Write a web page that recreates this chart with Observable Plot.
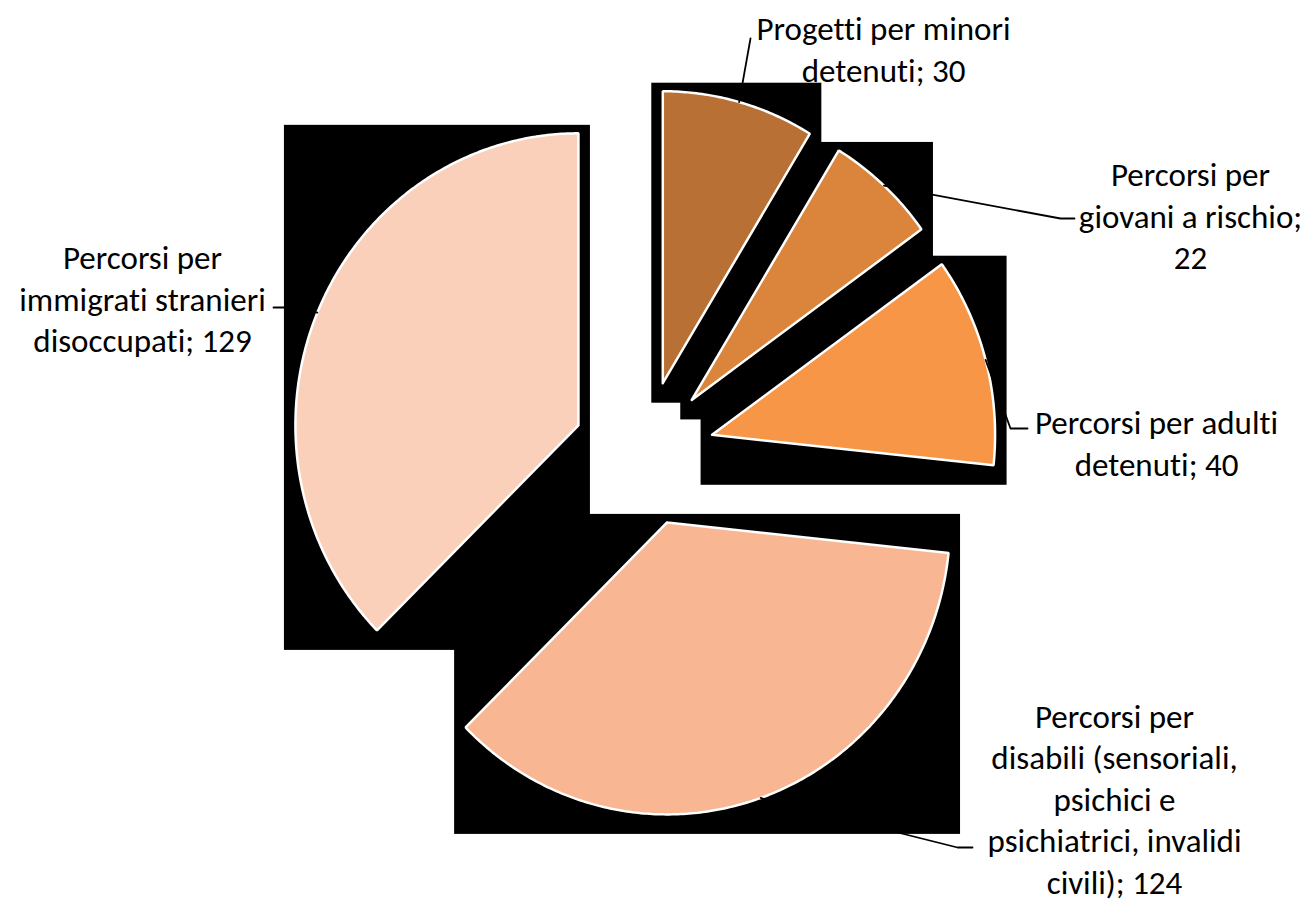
<!DOCTYPE html>
<html>
<head>
<meta charset="utf-8">
<script src="https://cdn.jsdelivr.net/npm/d3@7"></script>
<script src="https://cdn.jsdelivr.net/npm/@observablehq/plot@0.6"></script>
<style>
  html, body { margin: 0; padding: 0; background: #ffffff; overflow: hidden; }
  #chart svg { display: block; }
  #chart svg, #chart text, #chart tspan {
    font-variant-ligatures: none;
    font-feature-settings: "liga" 0, "clig" 0, "dlig" 0, "calt" 0;
  }
</style>
</head>
<body>
<div id="chart"></div>
<script>
// ---------- DATA ----------
const categories = [
  "Progetti per minori detenuti",
  "Percorsi per giovani a rischio",
  "Percorsi per adulti detenuti",
  "Percorsi per disabili (sensoriali, psichici e psichiatrici, invalidi civili)",
  "Percorsi per immigrati stranieri disoccupati"
];
const values = [30, 22, 40, 124, 129];
// label lines as shown in the chart ({v} = value)
const labelLines = [
  ["Progetti per minori", "detenuti; {v}"],
  ["Percorsi per", "giovani a rischio;", "{v}"],
  ["Percorsi per adulti", "detenuti; {v}"],
  ["Percorsi per", "disabili (sensoriali,", "psichici e", "psichiatrici, invalidi", "civili); {v}"],
  ["Percorsi per", "immigrati stranieri", "disoccupati; {v}"]
];
const colors = ["#B97034", "#DA843C", "#F79646", "#F8B692", "#FBD0BB"];

// ---------- LAYOUT (pixels) ----------
const W = 1308, H = 903;
const CX = 643.2, CY = 453;      // pie centre
const RX = 283, RY = 292;        // pie radius (horizontal / vertical px)
const explode = 0.25;            // point explosion (fraction of radius)
const labelPos = [[883, 47], [1190, 214], [1156, 441], [1114, 797], [142, 297]];
const leaderPath = [
  [[750, 38]],
  [[1060, 218], [1074, 218]],
  [[1010, 428], [1027, 428]],
  [[957, 847], [972, 847]],
  [[290, 307], [273, 307]]
];
const FONT = "Calibri, Carlito, Lato, sans-serif";

// pixel -> unit coordinates used by the scales
const ux = px => (px - CX) / RX;
const uy = py => (CY - py) / RY;

// ---------- GEOMETRY FROM VALUES ----------
const arcs = d3.pie().sort(null).value(d => d)(values);
const slices = arcs.map((a, i) => {
  const mid = (a.startAngle + a.endAngle) / 2;
  const ox = explode * Math.sin(mid), oy = explode * Math.cos(mid);
  const pts = [{x: ox, y: oy}];
  const n = Math.max(8, Math.ceil((a.endAngle - a.startAngle) / 0.01));
  for (let k = 0; k <= n; k++) {
    const t = a.startAngle + (a.endAngle - a.startAngle) * k / n;
    pts.push({x: ox + Math.sin(t), y: oy + Math.cos(t)});
  }
  pts.push({x: ox, y: oy});
  const xs = pts.map(p => p.x), ys = pts.map(p => p.y);
  return {
    i, name: categories[i], value: values[i], color: colors[i], pts,
    mid: {x: ox + Math.sin(mid), y: oy + Math.cos(mid)},
    box: {x1: d3.min(xs), x2: d3.max(xs), y1: d3.min(ys), y2: d3.max(ys)}
  };
});

const labels = slices.map(s => ({
  x: ux(labelPos[s.i][0]),
  y: uy(labelPos[s.i][1]),
  text: labelLines[s.i].map(l => l.replace("{v}", s.value)).join("\n")
}));

const leaders = slices.map(s => [
  {x: s.mid.x, y: s.mid.y},
  ...leaderPath[s.i].map(([px, py]) => ({x: ux(px), y: uy(py)}))
]);

const marks = [];
// black shadow boxes behind slices
marks.push(Plot.rect(slices.map(s => s.box), {
  x1: "x1", x2: "x2", y1: "y1", y2: "y2", fill: "black",
  insetLeft: -11, insetRight: -12, insetTop: -8, insetBottom: -20
}));
// slices
for (const s of slices) {
  marks.push(Plot.line(s.pts, {
    x: "x", y: "y", fill: s.color, stroke: "white", strokeWidth: 2.5,
    strokeLinejoin: "miter", curve: "linear"
  }));
}
// leader lines
for (const l of leaders) {
  marks.push(Plot.line(l, {x: "x", y: "y", stroke: "black", strokeWidth: 1.8, curve: "linear"}));
}
// labels
marks.push(Plot.text(labels, {
  x: "x", y: "y", text: "text", fill: "black",
  fontSize: 33, lineHeight: 1.26, lineAnchor: "middle", textAnchor: "middle",
  fontFamily: FONT
}));

const chart = Plot.plot({
  width: W, height: H, margin: 0,
  x: {domain: [ux(0), ux(W)], range: [0, W], axis: null},
  y: {domain: [uy(0), uy(H)], range: [0, H], axis: null},
  style: {background: "white", fontFamily: FONT},
  marks
});
document.getElementById("chart").appendChild(chart);
</script>
</body>
</html>
